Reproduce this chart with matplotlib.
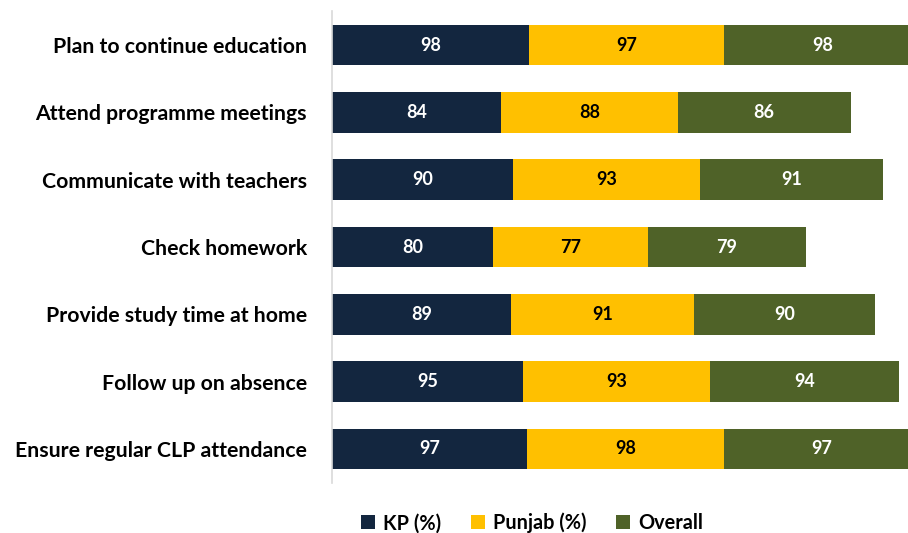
import matplotlib
matplotlib.use("Agg")
import matplotlib.pyplot as plt
import numpy as np

categories = ["Plan to continue education", "Attend programme meetings", "Communicate with teachers",
              "Check homework", "Provide study time at home", "Follow up on absence",
              "Ensure regular CLP attendance"]
kp = [98, 84, 90, 80, 89, 95, 97]
punjab = [97, 88, 93, 77, 91, 93, 98]
overall = [98, 86, 91, 79, 90, 94, 97]
series_names = ["KP (%)", "Punjab (%)", "Overall"]
colors = ["#13263F", "#FFC000", "#4F6228"]
text_colors = ["white", "black", "white"]

plt.rcParams['font.family'] = ['Lato', 'DejaVu Sans']

fig = plt.figure(figsize=(9.08, 5.33), dpi=100)
ax = fig.add_axes([332/908, 1-482.6/533, 603/908, 471.2/533])

y = np.arange(len(categories))
left = np.zeros(len(categories))
handles = []
for vals, name, c, tc in zip([kp, punjab, overall], series_names, colors, text_colors):
    vals = np.array(vals, dtype=float)
    b = ax.barh(y, vals, left=left, height=0.6, color=c, label=name)
    handles.append(b)
    for yi, l, v in zip(y, left, vals):
        ax.text(l + v/2, yi, f"{int(v)}", ha="center", va="center", color=tc,
                fontsize=13, fontweight="bold")
    left += vals

ax.set_xlim(0, 300)
ax.set_ylim(len(categories)-0.5, -0.5)
ax.set_yticks(y)
ax.set_yticklabels(categories, fontsize=15.3, fontweight="bold")
ax.tick_params(axis="y", length=0, pad=18)
ax.set_xticks([])
for s in ["top", "right", "bottom"]:
    ax.spines[s].set_visible(False)
ax.spines["left"].set_color("#D9D9D9")
ax.spines["left"].set_linewidth(1.2)

fig.legend(handles=handles, labels=series_names, loc="center", bbox_to_anchor=(532/908, 1-523/533),
           ncol=3, frameon=False, prop={"weight": "bold", "size": 14.3},
           handlelength=0.7, handleheight=0.7, handletextpad=0.4, columnspacing=1.5)

fig.savefig("out.png", dpi=100)
